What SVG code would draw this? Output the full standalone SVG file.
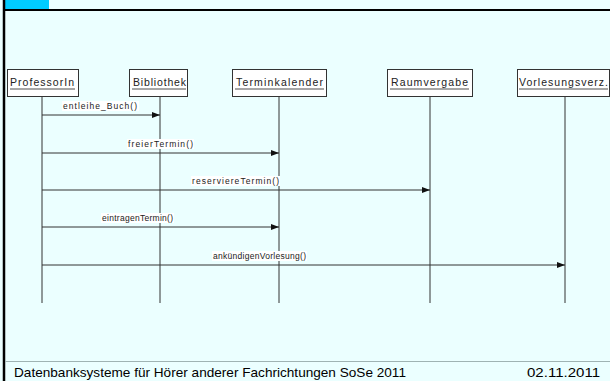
<svg xmlns="http://www.w3.org/2000/svg" width="610" height="381" viewBox="0 0 610 381">
<defs>
<style>
.box{fill:#fff;stroke:#333;stroke-width:1}
.bt{font-family:"Liberation Sans",Arial,sans-serif;font-size:10.5px;fill:#222}
.ul{stroke:#222;stroke-width:0.8}
.life{stroke:#333;stroke-width:1}
.msg{stroke:#333;stroke-width:1;fill:none;marker-end:url(#ah)}
.lbl{font-family:"Liberation Sans",Arial,sans-serif;font-size:8.5px;fill:#222}
.lb{fill:#fff}
.ft{font-family:"Liberation Sans",Arial,sans-serif;font-size:13.5px;fill:#000}
</style>
<marker id="ah" viewBox="0 0 8 8" refX="8" refY="4" markerWidth="8" markerHeight="8" markerUnits="userSpaceOnUse" orient="auto">
<path d="M0,1 L8,4 L0,7 Z" fill="#111"/>
</marker>
</defs>
<rect width="610" height="381" fill="#EBFFFF"/>
<rect x="5" y="0" width="44" height="10" fill="#00CCFF"/>
<line x1="3" y1="10" x2="610" y2="10" stroke="#000" stroke-width="2"/>
<line x1="4" y1="0" x2="4" y2="381" stroke="#000" stroke-width="2.5"/>
<line x1="5" y1="361.5" x2="610" y2="361.5" stroke="#9fb3b3" stroke-width="1"/>

<g id="lifelines">
<line class="life" x1="42" y1="96" x2="42" y2="303"/>
<line class="life" x1="160" y1="96" x2="160" y2="303"/>
<line class="life" x1="279" y1="96" x2="279" y2="303"/>
<line class="life" x1="430" y1="96" x2="430" y2="303"/>
<line class="life" x1="565" y1="96" x2="565" y2="303"/>
</g>

<g id="n-professor">
<rect class="box" x="7.5" y="69.5" width="71" height="27"/>
<text class="bt" x="10" y="86" textLength="64" lengthAdjust="spacing">ProfessorIn</text>
<line class="ul" x1="10" y1="89" x2="75" y2="89"/>
</g>
<g id="n-bibliothek">
<rect class="box" x="129.5" y="69.5" width="58" height="27"/>
<text class="bt" x="133" y="86" textLength="53" lengthAdjust="spacing">Bibliothek</text>
<line class="ul" x1="132" y1="89" x2="186" y2="89"/>
</g>
<g id="n-terminkalender">
<rect class="box" x="232.5" y="69.5" width="94" height="27"/>
<text class="bt" x="236" y="86" textLength="87" lengthAdjust="spacing">Terminkalender</text>
<line class="ul" x1="235" y1="89" x2="324" y2="89"/>
</g>
<g id="n-raumvergabe">
<rect class="box" x="387.5" y="69.5" width="85" height="27"/>
<text class="bt" x="391" y="86" textLength="77" lengthAdjust="spacing">Raumvergabe</text>
<line class="ul" x1="390" y1="89" x2="469" y2="89"/>
</g>
<g id="n-vorlesungsverz">
<rect class="box" x="517.5" y="69.5" width="92" height="27"/>
<text class="bt" x="519" y="86" textLength="89" lengthAdjust="spacing">Vorlesungsverz.</text>
<line class="ul" x1="519" y1="89" x2="608" y2="89"/>
</g>

<g id="connectors">
<line class="msg" x1="42" y1="115" x2="160" y2="115"/>
<rect class="lb" x="62" y="101" width="77" height="10"/>
<text class="lbl" x="63" y="109" textLength="74" lengthAdjust="spacing">entleihe_Buch()</text>

<line class="msg" x1="42" y1="153" x2="279" y2="153"/>
<rect class="lb" x="127" y="139" width="67" height="10"/>
<text class="lbl" x="128" y="147" textLength="65" lengthAdjust="spacing">freierTermin()</text>

<line class="msg" x1="42" y1="190" x2="430" y2="190"/>
<rect class="lb" x="191" y="176" width="89" height="10"/>
<text class="lbl" x="192" y="184" textLength="87" lengthAdjust="spacing">reserviereTermin()</text>

<line class="msg" x1="42" y1="227" x2="279" y2="227"/>
<rect class="lb" x="101" y="213" width="73" height="10"/>
<text class="lbl" x="102" y="221" textLength="71" lengthAdjust="spacing">eintragenTermin()</text>

<line class="msg" x1="42" y1="265" x2="565" y2="265"/>
<rect class="lb" x="212" y="251" width="95" height="10"/>
<text class="lbl" x="213" y="259" textLength="93" lengthAdjust="spacing">ankündigenVorlesung()</text>
</g>

<text class="ft" x="14" y="377" textLength="392" lengthAdjust="spacingAndGlyphs">Datenbanksysteme für Hörer anderer Fachrichtungen SoSe 2011</text>
<text class="ft" x="527" y="377" textLength="73" lengthAdjust="spacingAndGlyphs">02.11.2011</text>
</svg>
